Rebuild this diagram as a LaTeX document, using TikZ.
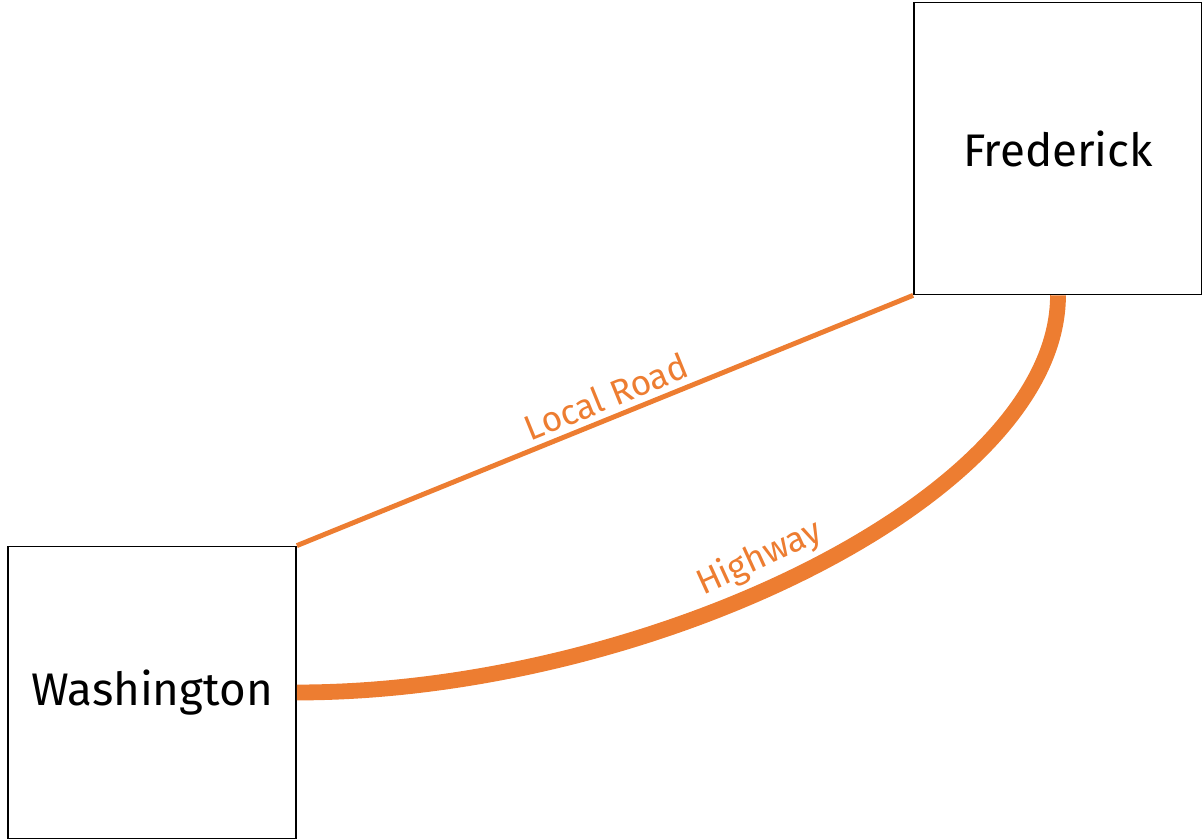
\documentclass[tikz,border=0pt]{standalone}
\usepackage{fontspec}
\setmainfont{Fira Sans}
\definecolor{roadorange}{HTML}{ED7D31}

\begin{document}
\begin{tikzpicture}[auto]
   \useasboundingbox (0,0) rectangle (24.04,16.78);
   \begin{scope}[every node/.style={rectangle,draw=black,line width=1pt,minimum width=5.76cm,minimum height=5.84cm,font=\fontsize{26}{32}\selectfont}]
    \node (wash) at (3.04,2.93) {Washington};
    \node (fred) at (21.16,13.81) {Frederick};
   \end{scope}
   \begin{scope}[every edge/.style={draw=roadorange},every node/.style={text=roadorange,sloped,font=\fontsize{20}{24}\selectfont}]
    \draw  (wash.north east) edge[line width=2.8pt] node[pos=0.515]{Local Road} (fred.south west);
    \draw  (wash.east) edge[line width=9pt,out=0,in=-90,out looseness=1.04,in looseness=0.6] node[pos=0.46]{Highway} (fred.south);
   \end{scope}
\end{tikzpicture}
\end{document}
